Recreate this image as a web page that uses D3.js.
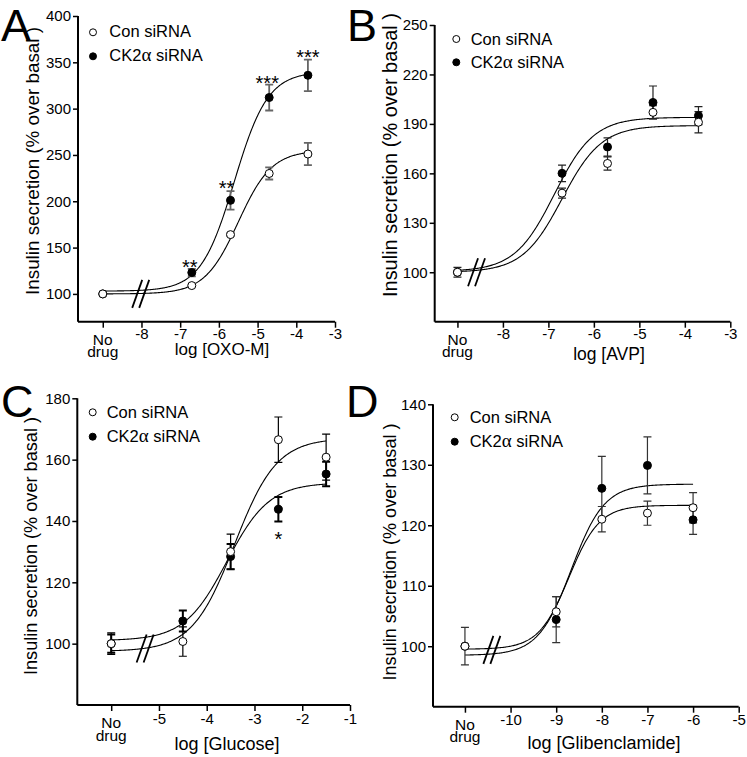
<!DOCTYPE html>
<html><head><meta charset="utf-8">
<script src="https://cdn.jsdelivr.net/npm/d3@7/dist/d3.min.js"></script>
<style>
body{margin:0;background:#fff}
text{font-family:"Liberation Sans",Arial,sans-serif;fill:#000}
</style>
</head><body>
<svg id="chart" width="747" height="757"></svg>
<script>
// ---------------- DATA ----------------
const panelLetters = ["A", "B", "C", "D"];
const xTitles = ["log [OXO-M]", "log [AVP]", "log [Glucose]", "log [Glibenclamide]"];
const yTitle = "Insulin secretion (% over basal )";
const seriesNames = ["Con siRNA", "CK2α siRNA"];

// x positions: first entry is the "No drug" point
const noDrugX = [-9, -9, -6, -11];
const doseA = [-9, -6.7, -5.7, -4.7, -3.7];
const doseB = [-9, -6.7, -5.7, -4.7, -3.7];
const doseC = [-6, -4.5, -3.5, -2.5, -1.5];
const doseD = [-11, -9, -8, -7, -6];

const conA = [100, 109, 164, 230, 251];
const conErrA = [0, 1, 1.5, 6.5, 12];
const ck2A = [100, 123, 201, 312, 336];
const ck2ErrA = [0, 4, 10, 14, 17];

const conB = [100, 148, 166, 197, 191];
const conErrB = [3, 3, 4, 4, 6.5];
const ck2B = [100, 160, 176, 203, 195];
const ck2ErrB = [0, 5, 5.5, 10, 5.5];

const conC = [100, 100.7, 130, 166.5, 160.8];
const conErrC = [3.5, 4.8, 5.7, 7.4, 7.5];
const ck2C = [100, 107.4, 128.4, 143.8, 155.3];
const ck2ErrC = [3, 3.4, 4.1, 4, 4];

const conD = [100, 105.7, 121, 122, 122.9];
const conErrD = [3.1, 2.5, 2.1, 2, 2.5];
const ck2D = [100, 104.4, 126.1, 129.9, 120.9];
const ck2ErrD = [0, 3.8, 5.3, 4.7, 2.4];

// sigmoid fit parameters: [bottom, top, logEC50, hill]
const fitConA = [100, 255, -5.5, 1];
const fitCk2A = [103, 340, -5.6, 1];
const fitConB = [100, 189, -6.7, 1];
const fitCk2B = [100.5, 194, -6.87, 1];
const fitConC = [97.5, 167, -3.42, 0.98];
const fitCk2C = [101, 152.5, -3.58, 0.98];
const fitConD = [99.5, 123.3, -8.72, 1.3];
const fitCk2D = [98.5, 126.8, -8.67, 1.2];

const yTicksA = [100, 150, 200, 250, 300, 350, 400];
const yTicksB = [100, 130, 160, 190, 220, 250];
const yTicksC = [100, 120, 140, 160, 180];
const yTicksD = [100, 110, 120, 130, 140];
const xTicksA = [-8, -7, -6, -5, -4, -3];
const xTicksB = [-8, -7, -6, -5, -4, -3];
const xTicksC = [-5, -4, -3, -2, -1];
const xTicksD = [-10, -9, -8, -7, -6, -5];

const xDomains = [[-9.64, -3], [-9.5, -3], [-6.71, -1], [-11.7, -5]];
const yDomains = [[70, 400], [70, 250], [80, 180], [90, 140]];

// axis breaks [x, y] in data units
const breaksXY = [[-8.02, 100], [-8.58, 100], [-5.29, 98.4], [-10.41, 99.4]];

// significance marks: [x, y, label]
const starsA = [[-6.75, 134, "**"], [-5.8, 219.5, "**"], [-4.75, 332, "***"], [-3.7, 360.5, "***"]];
const starsC = [[-2.5, 135.5, "*"]];

// ---------------- LAYOUT ----------------
const layout = [
  {x0: 78, x1: 335, yb: 321.7, yt: 16, letter: [1, 40.8], yT: [38.5, 161, 18.5, 268], xT: [222, 355, 17],
   leg: [93, 32.3, 109.3, 37, 24], tickPad: 1, errCol: "#666", errW: [1.8, 1.8]},
  {x0: 434.7, x1: 730.3, yb: 321.7, yt: 25, letter: [347, 40.8], yT: [396.5, 155, 19.5, 284], xT: [609, 360, 17.5],
   leg: [456.3, 39, 470.7, 44.5, 23.3], tickPad: 1, errCol: "#222", errW: [1.2, 1.2]},
  {x0: 77.3, x1: 350, yb: 705, yt: 398.3, letter: [1, 416.5], yT: [37, 546, 18, 258], xT: [227, 749.5, 18],
   leg: [92.7, 412.3, 106.7, 417.5, 24.4], tickPad: 2, errCol: "#000", errW: [1.2, 2]},
  {x0: 433, x1: 738.7, yb: 706.7, yt: 404.3, letter: [346, 416.5], yT: [396, 552, 18, 257], xT: [604, 748.5, 18],
   leg: [454.7, 417.3, 469.7, 422.5, 24.4], tickPad: 2, errCol: "#333", errW: [1.2, 1.2]}
];

const doses = [doseA, doseB, doseC, doseD];
const cons = [conA, conB, conC, conD];
const conErrs = [conErrA, conErrB, conErrC, conErrD];
const ck2s = [ck2A, ck2B, ck2C, ck2D];
const ck2Errs = [ck2ErrA, ck2ErrB, ck2ErrC, ck2ErrD];
const fits = [[fitConA, fitCk2A], [fitConB, fitCk2B], [fitConC, fitCk2C], [fitConD, fitCk2D]];
const yTicks = [yTicksA, yTicksB, yTicksC, yTicksD];
const xTicks = [xTicksA, xTicksB, xTicksC, xTicksD];
const stars = [starsA, [], starsC, []];

const svg = d3.select("#chart");
const sig = (p, x) => p[0] + (p[1] - p[0]) / (1 + Math.pow(10, p[3] * (p[2] - x)));

layout.forEach((L, i) => {
  const g = svg.append("g");
  const x = d3.scaleLinear().domain(xDomains[i]).range([L.x0, L.x1]);
  const y = d3.scaleLinear().domain(yDomains[i]).range([L.yb, L.yt]);

  // axes
  const yAx = d3.axisLeft(y).tickValues(yTicks[i]).tickSize(5).tickPadding(2).tickFormat(d3.format("d"));
  const gy = g.append("g").attr("transform", `translate(${L.x0},0)`).call(yAx);
  const xvals = [noDrugX[i]].concat(xTicks[i]);
  const xAx = d3.axisBottom(x).tickValues(xvals).tickSize(6).tickPadding(L.tickPad)
    .tickFormat(d => d === noDrugX[i] ? "" : String(d));
  const gx = g.append("g").attr("transform", `translate(0,${L.yb})`).call(xAx);
  [gx, gy].forEach(a => {
    a.select(".domain").attr("stroke", "#000").attr("stroke-width", 2);
    a.selectAll(".tick line").attr("stroke", "#000").attr("stroke-width", 1.5);
    a.selectAll(".tick text").attr("font-size", 15).attr("font-family", "Liberation Sans, Arial, sans-serif").attr("fill", "#000");
  });
  gy.select(".domain").attr("d", `M0,${L.yb}V${L.yt}`);
  gx.select(".domain").attr("d", `M${L.x0},0H${L.x1}`);

  // No drug label
  const ndx = x(noDrugX[i]);
  g.append("text").attr("x", ndx).attr("y", L.yb + 23).attr("text-anchor", "middle").attr("font-size", 15.5).text("No");
  g.append("text").attr("x", ndx).attr("y", L.yb + 35.5).attr("text-anchor", "middle").attr("font-size", 15.5).text("drug");

  // titles
  g.append("text").attr("x", L.xT[0]).attr("y", L.xT[1]).attr("text-anchor", "middle")
    .attr("font-size", L.xT[2]).text(xTitles[i]);
  g.append("text").attr("transform", `translate(${L.yT[0]},${L.yT[1]}) rotate(-90)`)
    .attr("text-anchor", "middle").attr("font-size", L.yT[2])
    .attr("textLength", L.yT[3]).attr("lengthAdjust", "spacingAndGlyphs").text(yTitle);
  g.append("text").attr("x", L.letter[0]).attr("y", L.letter[1]).attr("font-size", 45).text(panelLetters[i]);

  // fitted curves
  const line = d3.line().x(d => x(d[0])).y(d => y(d[1]));
  const xs = d3.range(noDrugX[i], doses[i][doses[i].length - 1] + 0.001, 0.02);
  fits[i].forEach(p => {
    g.append("path").attr("d", line(xs.map(v => [v, sig(p, v)])))
      .attr("fill", "none").attr("stroke", "#000").attr("stroke-width", 1.1);
  });

  // axis break
  const bx = x(breaksXY[i][0]), by = y(breaksXY[i][1]);
  [-3.5, 3.5].forEach(o => {
    g.append("line").attr("x1", bx + o - 5).attr("y1", by + 14).attr("x2", bx + o + 5).attr("y2", by - 14)
      .attr("stroke", "#000").attr("stroke-width", 1.8);
  });

  // series: CK2 first, Con on top
  const series = [
    {vals: ck2s[i], errs: ck2Errs[i], fill: "#000", w: L.errW[1]},
    {vals: cons[i], errs: conErrs[i], fill: "#fff", w: L.errW[0]}
  ];
  series.forEach(s => {
    const pts = doses[i].map((d, k) => ({d, v: s.vals[k], e: s.errs[k]}));
    pts.filter(p => p.e > 0).forEach(p => {
      const cx = x(p.d);
      g.append("path")
        .attr("d", `M${cx},${y(p.v - p.e)}V${y(p.v + p.e)}M${cx - 4},${y(p.v + p.e)}H${cx + 4}M${cx - 4},${y(p.v - p.e)}H${cx + 4}`)
        .attr("stroke", L.errCol).attr("stroke-width", s.w).attr("fill", "none");
    });
  });
  series.forEach(s => {
    doses[i].forEach((d, k) => {
      g.append("circle").attr("cx", x(d)).attr("cy", y(s.vals[k])).attr("r", 4)
        .attr("fill", s.fill).attr("stroke", "#000").attr("stroke-width", 1);
    });
  });

  // stars
  stars[i].forEach(s => {
    g.append("text").attr("x", x(s[0])).attr("y", y(s[1]) + 11.4).attr("text-anchor", "middle")
      .attr("font-size", 20).text(s[2]);
  });

  // legend
  const [lcx, lcy, ltx, lty, dy] = L.leg;
  [["#fff", seriesNames[0]], ["#000", seriesNames[1]]].forEach((it, k) => {
    g.append("circle").attr("cx", lcx).attr("cy", lcy + k * dy).attr("r", 3.5)
      .attr("fill", it[0]).attr("stroke", "#000").attr("stroke-width", 1);
    const t = g.append("text").attr("x", ltx).attr("y", lty + k * dy).attr("font-size", 16.5);
    if (k === 0) t.text(it[1]);
    else {
      t.append("tspan").text("CK2");
      t.append("tspan").attr("font-family", "Liberation Serif, serif").attr("font-size", 19).text("α");
      t.append("tspan").text(" siRNA");
    }
  });
});
</script>
</body></html>
